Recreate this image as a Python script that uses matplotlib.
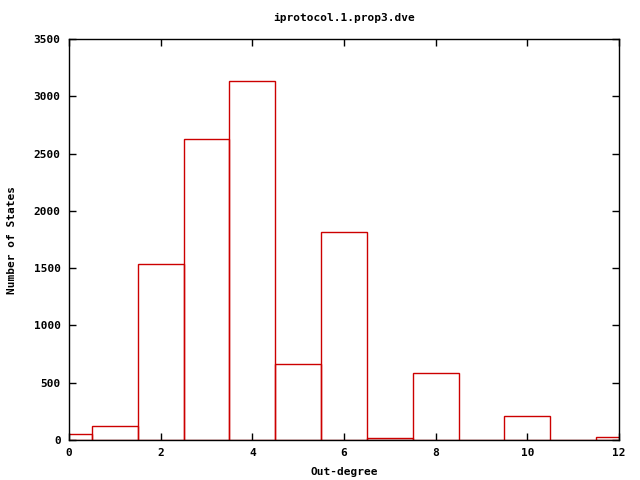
import matplotlib
matplotlib.use("Agg")
import matplotlib.pyplot as plt

degrees = [0, 1, 2, 3, 4, 5, 6, 7, 8, 9, 10, 11, 12]
counts = [52, 122, 1535, 2625, 3131, 663, 1812, 15, 585, 0, 209, 0, 26]
title = "iprotocol.1.prop3.dve"
xlabel = "Out-degree"
ylabel = "Number of States"

plt.rcParams['font.family'] = ['DejaVu Sans Mono']
plt.rcParams['font.weight'] = 'bold'
plt.rcParams['font.size'] = 8

fig = plt.figure(figsize=(6.4, 4.8), dpi=100)
ax = fig.add_axes([69/640, 40/480, 550/640, 401/480])
ax.bar(degrees, counts, width=1.0, align='center', facecolor='none',
       edgecolor='#cc0000', linewidth=1.0)
ax.set_xlim(0, 12)
ax.set_ylim(0, 3500)
ax.set_xticks(range(0, 13, 2))
ax.set_yticks(range(0, 3501, 500))
ax.tick_params(direction='in', top=True, right=True, length=5, width=1, pad=6)
for s in ax.spines.values():
    s.set_linewidth(1)
ax.set_title(title, fontsize=8, fontweight='bold', pad=13)
ax.set_xlabel(xlabel, fontweight='bold', labelpad=6)
ax.set_ylabel(ylabel, fontweight='bold', labelpad=12)
fig.savefig("out.png", dpi=100)
